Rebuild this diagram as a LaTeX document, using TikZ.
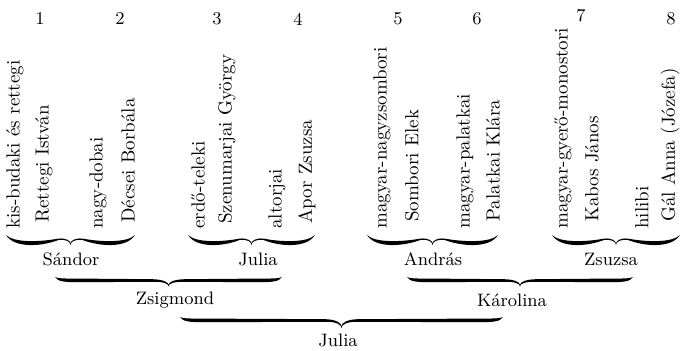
\documentclass[tikz,border=0pt]{standalone}
\usetikzlibrary{calc}
\tikzset{
  vtext/.style={rotate=90, anchor=west, inner sep=0pt, font=\fontsize{9.5}{11}\selectfont},
  num/.style={inner sep=0pt, font=\fontsize{9}{11}\selectfont},
  lbl/.style={inner sep=0pt, font=\fontsize{9}{11}\selectfont},
  % wavy, tapered curly brace pointing down (short spans)
  wavybrace/.style={to path={
    let \p1=(\tikztostart), \p2=(\tikztotarget), \p3=({(\x1+\x2)/2},\y1) in
    .. controls ({\x1+4pt},{\y1-6.5pt}) and ({\x1+17pt},{\y1-6pt}) .. ({\x3-6pt},{\y1-2.5pt})
    .. controls ({\x3-2pt},{\y1-2pt}) and ({\x3},{\y1-3.5pt}) .. ({\x3},{\y1-5pt})
    .. controls ({\x3},{\y1-3.5pt}) and ({\x3+2pt},{\y1-2pt}) .. ({\x3+6pt},{\y1-2.5pt})
    .. controls ({\x2-17pt},{\y1-6pt}) and ({\x2-4pt},{\y1-6.5pt}) .. (\p2)
    .. controls ({\x2-4pt},{\y1-4pt}) and ({\x2-17pt},{\y1-3.5pt}) .. ({\x3+6pt},{\y1-1.8pt})
    .. controls ({\x3+2pt},{\y1-1.4pt}) and ({\x3},{\y1-3pt}) .. ({\x3},{\y1-4.2pt})
    .. controls ({\x3},{\y1-3pt}) and ({\x3-2pt},{\y1-1.4pt}) .. ({\x3-6pt},{\y1-1.8pt})
    .. controls ({\x1+17pt},{\y1-3.5pt}) and ({\x1+4pt},{\y1-4pt}) .. (\p1)
    -- cycle}},
  % long, nearly straight brace with curled ends; #1 is the depth of the tip
  flatbrace/.style={to path={
    let \p1=(\tikztostart), \p2=(\tikztotarget), \p3=({(\x1+\x2)/2},\y1) in
    .. controls ({\x1+1.5pt},{\y1-2.4pt}) and ({\x1+5pt},{\y1-2.6pt}) .. ({\x1+12pt},{\y1-2.6pt})
    -- ({\x3-8pt},{\y1-2.4pt})
    .. controls ({\x3-2.5pt},{\y1-2.3pt}) and ({\x3},{\y1-0.7*#1}) .. ({\x3},{\y1-#1})
    .. controls ({\x3},{\y1-0.7*#1}) and ({\x3+2.5pt},{\y1-2.3pt}) .. ({\x3+8pt},{\y1-2.4pt})
    -- ({\x2-12pt},{\y1-2.6pt})
    .. controls ({\x2-5pt},{\y1-2.6pt}) and ({\x2-1.5pt},{\y1-2.4pt}) .. (\p2)
    .. controls ({\x2-1.5pt},{\y1-0.8pt}) and ({\x2-5pt},{\y1-0.8pt}) .. ({\x2-12pt},{\y1-0.8pt})
    -- ({\x3+8pt},{\y1-1.1pt})
    .. controls ({\x3+2.5pt},{\y1-1.3pt}) and ({\x3},{\y1-0.55*#1}) .. ({\x3},{\y1-0.85*#1})
    .. controls ({\x3},{\y1-0.55*#1}) and ({\x3-2.5pt},{\y1-1.3pt}) .. ({\x3-8pt},{\y1-1.1pt})
    -- ({\x1+12pt},{\y1-0.8pt})
    .. controls ({\x1+5pt},{\y1-0.8pt}) and ({\x1+1.5pt},{\y1-0.8pt}) .. (\p1)
    -- cycle}}
}
\begin{document}
\begin{tikzpicture}[x=0.5pt,y=-0.5pt]
\useasboundingbox (0,0) rectangle (682,351);

% generation numbers
\node[num] (n1) at (40,19) {1};
\node[num] (n2) at (120,19) {2};
\node[num] (n3) at (217,19) {3};
\node[num] (n4) at (298,19) {4};
\node[num] (n5) at (398,19) {5};
\node[num] (n6) at (477,19) {6};
\node[num] (n7) at (581,16) {7};
\node[num] (n8) at (671,19) {8};

% ancestors, set vertically
\node[vtext] (a1)  at (15,229)  {kis-budaki és rettegi};
\node[vtext] (a2)  at (44,223)  {Rettegi István};
\node[vtext] (a3)  at (98,229)  {nagy-dobai};
\node[vtext] (a4)  at (128,223) {Décsei Borbála};
\node[vtext] (a5)  at (198,229) {erdő-teleki};
\node[vtext] (a6)  at (227,224) {Szenumarjai György};
\node[vtext] (a7)  at (277,229) {altorjai};
\node[vtext] (a8)  at (307,224) {Apor Zsuzsa};
\node[vtext] (a9)  at (382,229) {magyar-nagyzsombori};
\node[vtext] (a10) at (412,222) {Sombori Elek};
\node[vtext] (a11) at (465,229) {magyar-palatkai};
\node[vtext] (a12) at (493,222) {Palatkai Klára};
\node[vtext] (a13) at (563,229) {magyar-gyerő-monostori};
\node[vtext] (a14) at (592,222) {Kabos János};
\node[vtext] (a15) at (642,229) {hilibi};
\node[vtext] (a16) at (670,222) {Gál Anna (Józefa)};

% first level
\coordinate (b1l) at (6,235);   \coordinate (b1r) at (135,235);
\coordinate (b2l) at (188,235); \coordinate (b2r) at (315,235);
\coordinate (b3l) at (367,235); \coordinate (b3r) at (498,235);
\coordinate (b4l) at (552,235); \coordinate (b4r) at (680,235);
\fill[wavybrace] (b1l) to (b1r);
\fill[wavybrace] (b2l) to (b2r);
\fill[wavybrace] (b3l) to (b3r);
\fill[wavybrace] (b4l) to (b4r);
\node[lbl] (sandor) at (71,259)  {Sándor};
\node[lbl] (julia1) at (258,259) {Julia};
\node[lbl] (andras) at (433,259) {András};
\node[lbl] (zsuzsa) at (611,259) {Zsuzsa};

% second level
\coordinate (c1l) at (55,277);  \coordinate (c1r) at (282,277);
\coordinate (c2l) at (407,277); \coordinate (c2r) at (633,277);
\fill[flatbrace=4.7pt] (c1l) to (c1r);
\fill[flatbrace=4.7pt] (c2l) to (c2r);
\node[lbl] (zsigmond) at (175,300) {Zsigmond};
\node[lbl] (karolina) at (512,300) {Károlina};

% third level
\coordinate (d1l) at (180,317); \coordinate (d1r) at (503,317);
\fill[flatbrace=5.5pt] (d1l) to (d1r);
\node[lbl] (julia2) at (338,340) {Julia};
\end{tikzpicture}
\end{document}
